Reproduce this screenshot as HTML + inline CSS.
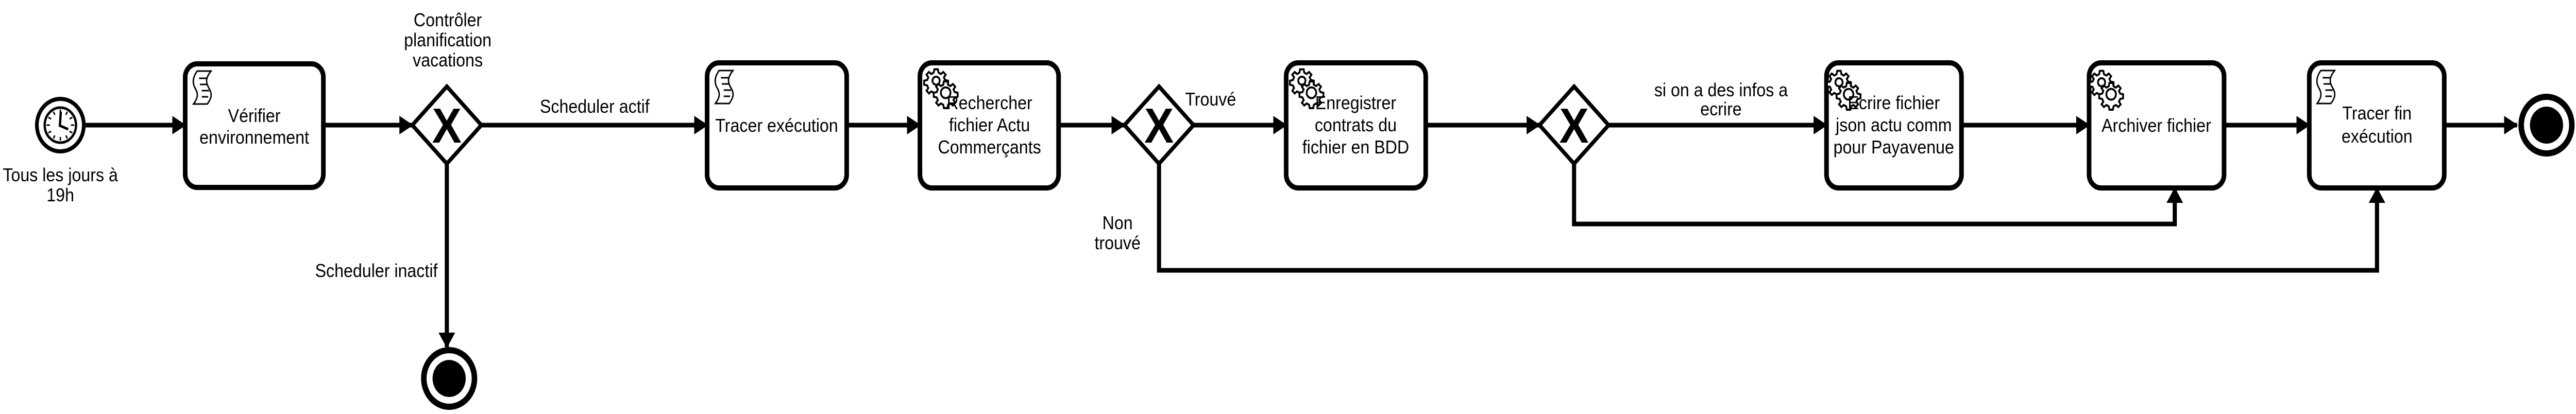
<!DOCTYPE html>
<html><head><meta charset="utf-8"><style>
html,body{margin:0;padding:0;background:#fff;overflow:hidden;width:100vw;height:100vh;}
svg{display:block;width:100vw;height:100vh;}
text{font-family:"Liberation Sans",Arial,sans-serif;fill:#000;}
</style></head><body>
<svg viewBox="0 0 5592 804" preserveAspectRatio="none" xmlns="http://www.w3.org/2000/svg">
<defs>
<marker id="ah" markerUnits="userSpaceOnUse" markerWidth="30" markerHeight="36" refX="28" refY="18" orient="auto">
<path d="M0,0 L30,18 L0,36 Z" fill="#000"/>
</marker>
<g id="gear">
<g fill="#fff" stroke="#000" stroke-width="3">
<path d="M14,2 h6 l1,5 l4,2 l4,-3 l4,4 l-3,4 l2,4 l5,1 v6 l-5,1 l-2,4 l3,4 l-4,4 l-4,-3 l-4,2 l-1,5 h-6 l-1,-5 l-4,-2 l-4,3 l-4,-4 l3,-4 l-2,-4 l-5,-1 v-6 l5,-1 l2,-4 l-3,-4 l4,-4 l4,3 l4,-2 Z"/>
<circle cx="17" cy="19" r="6"/>
<path d="M30,20 h6 l1,5 l4,2 l4,-3 l4,4 l-3,4 l2,4 l5,1 v6 l-5,1 l-2,4 l3,4 l-4,4 l-4,-3 l-4,2 l-1,5 h-6 l-1,-5 l-4,-2 l-4,3 l-4,-4 l3,-4 l-2,-4 l-5,-1 v-6 l5,-1 l2,-4 l-3,-4 l4,-4 l4,3 l4,-2 Z"/>
<circle cx="33" cy="37" r="8"/>
</g>
</g>
<g id="script">
<path d="M8,0 H38 C26,14 26,22 34,34 C42,46 38,54 30,64 H0 C8,54 12,46 4,34 C-4,22 0,10 8,0 Z" fill="#fff" stroke="#000" stroke-width="3"/>
<path d="M12,14 H28 M14,26 H30 M18,38 H34 M18,50 H32" stroke="#000" stroke-width="3"/>
</g>
</defs>

<g stroke="#000" stroke-width="9" fill="none">
<line x1="186" y1="243" x2="402" y2="243" marker-end="url(#ah)"/>
<line x1="702" y1="243" x2="895" y2="243" marker-end="url(#ah)"/>
<line x1="1045" y1="243" x2="1535" y2="243" marker-end="url(#ah)"/>
<line x1="970" y1="318" x2="970" y2="674" marker-end="url(#ah)"/>
<line x1="1838" y1="243" x2="1997" y2="243" marker-end="url(#ah)"/>
<line x1="2298" y1="243" x2="2441" y2="243" marker-end="url(#ah)"/>
<line x1="2591" y1="243" x2="2792" y2="243" marker-end="url(#ah)"/>
<line x1="3095" y1="243" x2="3342" y2="243" marker-end="url(#ah)"/>
<line x1="3492" y1="243" x2="3965" y2="243" marker-end="url(#ah)"/>
<line x1="4258" y1="243" x2="4535" y2="243" marker-end="url(#ah)"/>
<line x1="4828" y1="243" x2="5013" y2="243" marker-end="url(#ah)"/>
<line x1="5306" y1="243" x2="5464" y2="243" marker-end="url(#ah)"/>
<polyline points="3417,318 3417,435 4721,435 4721,366" marker-end="url(#ah)"/>
<polyline points="2516,318 2516,525 5160,525 5160,366" marker-end="url(#ah)"/>
</g>

<circle cx="131" cy="243" r="51" fill="#fff" stroke="#000" stroke-width="8"/>
<circle cx="131" cy="243" r="34" fill="#fff" stroke="#000" stroke-width="5"/>
<g stroke="#000" stroke-width="3">
<line x1="131" y1="213" x2="131" y2="220"/><line x1="131" y1="266" x2="131" y2="273"/>
<line x1="101" y1="243" x2="108" y2="243"/><line x1="154" y1="243" x2="161" y2="243"/>
<line x1="116" y1="217" x2="119" y2="223"/><line x1="146" y1="217" x2="143" y2="223"/>
<line x1="116" y1="269" x2="119" y2="263"/><line x1="146" y1="269" x2="143" y2="263"/>
<line x1="105" y1="228" x2="111" y2="231"/><line x1="157" y1="228" x2="151" y2="231"/>
<line x1="105" y1="258" x2="111" y2="255"/><line x1="157" y1="258" x2="151" y2="255"/>
</g>
<path d="M132,217 L130,244 L148,251" stroke="#000" stroke-width="5" fill="none"/>

<g fill="#fff" stroke="#000" stroke-width="10">
<rect x="402" y="124" width="300" height="240" rx="26"/>
<rect x="1535" y="122" width="303" height="243" rx="26"/>
<rect x="1997" y="122" width="301" height="243" rx="26"/>
<rect x="2792" y="122" width="303" height="243" rx="26"/>
<rect x="3965" y="122" width="293" height="243" rx="26"/>
<rect x="4535" y="122" width="293" height="243" rx="26"/>
<rect x="5013" y="122" width="293" height="243" rx="26"/>
</g>
<use href="#script" x="420" y="138"/>
<use href="#script" x="1553" y="137"/>
<use href="#script" x="5030" y="137"/>
<use href="#gear" transform="translate(2010,132) scale(1.3)"/>
<use href="#gear" transform="translate(2804,132) scale(1.3)"/>
<use href="#gear" transform="translate(3970,135) scale(1.3)"/>
<use href="#gear" transform="translate(4540,135) scale(1.3)"/>

<g fill="#fff" stroke="#000" stroke-width="8">
<polygon points="970,168 1045,243 970,318 895,243"/>
<polygon points="2516,168 2591,243 2516,318 2441,243"/>
<polygon points="3417,168 3492,243 3417,318 3342,243"/>
</g>
<g font-size="96" font-weight="bold" text-anchor="middle">
<text x="970" y="277">X</text>
<text x="2516" y="277">X</text>
<text x="3417" y="277">X</text>
</g>

<circle cx="975" cy="735" r="55" fill="#fff" stroke="#000" stroke-width="12"/>
<circle cx="975" cy="735" r="36" fill="#000"/>
<circle cx="5528" cy="243" r="55" fill="#fff" stroke="#000" stroke-width="12"/>
<circle cx="5528" cy="243" r="36" fill="#000"/>

<g font-size="36" text-anchor="middle">
<text x="131" y="352">Tous les jours à</text>
<text x="131" y="391">19h</text>
<text x="972" y="51">Contrôler</text>
<text x="972" y="90">planification</text>
<text x="972" y="129">vacations</text>
<text x="817" y="538">Scheduler inactif</text>
<text x="1291" y="219">Scheduler actif</text>
<text x="2628" y="205">Trouvé</text>
<text x="2426" y="445">Non</text>
<text x="2426" y="484">trouvé</text>
<text x="3736" y="187">si on a des infos a</text>
<text x="3736" y="224">ecrire</text>
<text x="552" y="237">Vérifier</text>
<text x="552" y="279">environnement</text>
<text x="1686" y="256">Tracer exécution</text>
<text x="2148" y="212">Rechercher</text>
<text x="2148" y="255">fichier Actu</text>
<text x="2148" y="298">Commerçants</text>
<text x="2943" y="212">Enregistrer</text>
<text x="2943" y="255">contrats du</text>
<text x="2943" y="298">fichier en BDD</text>
<text x="4111" y="212">Ecrire fichier</text>
<text x="4111" y="255">json actu comm</text>
<text x="4111" y="298">pour Payavenue</text>
<text x="4681" y="256">Archiver fichier</text>
<text x="5160" y="232">Tracer fin</text>
<text x="5160" y="277">exécution</text>
</g>
</svg>
</body></html>
